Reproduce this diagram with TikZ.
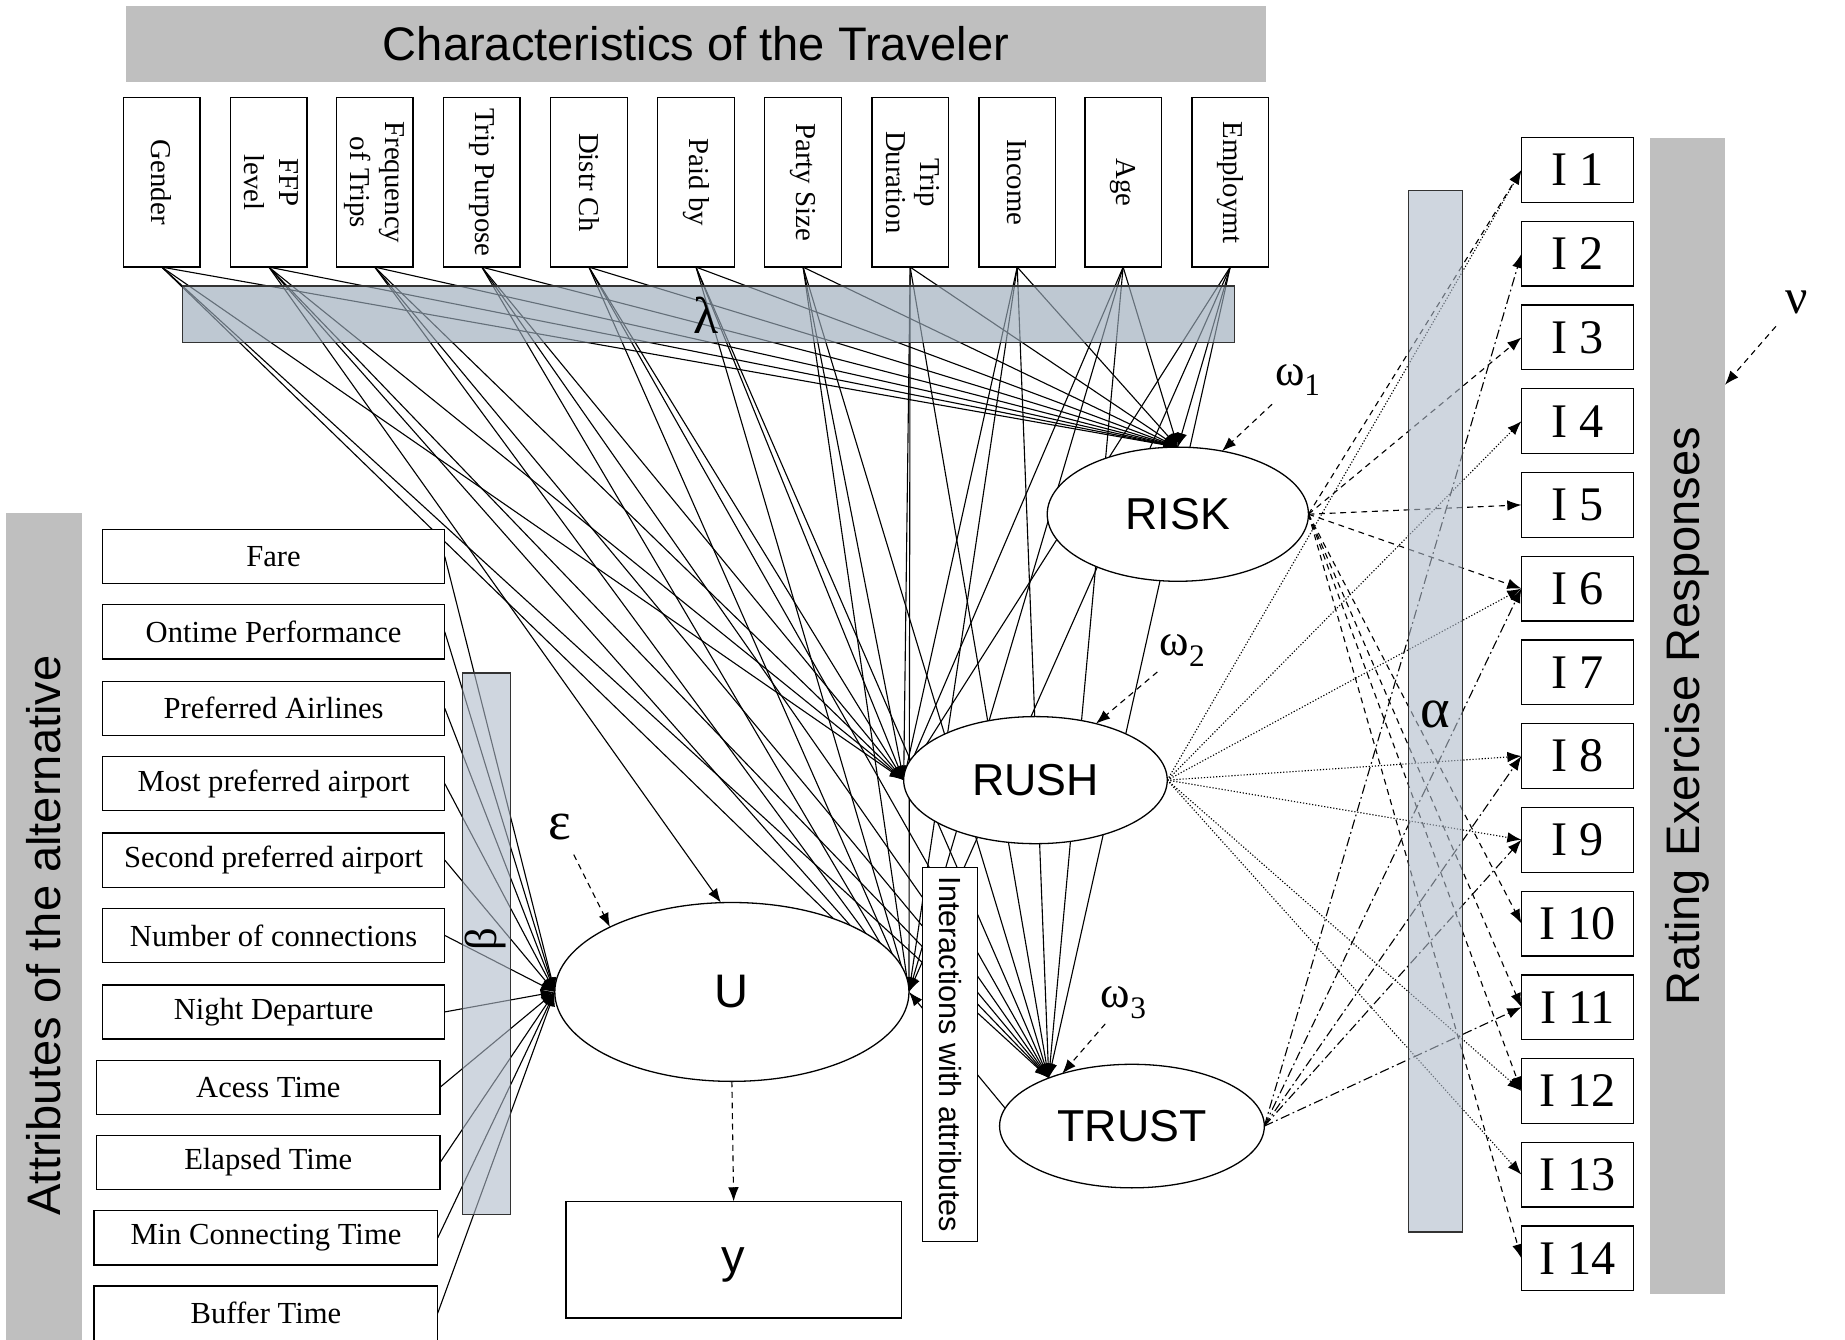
\documentclass[tikz,border=0pt]{standalone}
\usepackage{fontspec}
\usepackage{graphicx}
\setmainfont{Liberation Serif}
\newfontfamily\sansf{Liberation Sans}
\usetikzlibrary{shapes.geometric,arrows.meta}
\pgfdeclarelayer{lines}
\pgfsetlayers{lines,main}
\definecolor{bandgray}{RGB}{191,191,191}
\definecolor{lambdafill}{RGB}{155,171,186}
\definecolor{barfill}{RGB}{175,187,202}
\tikzset{
  every node/.style={inner sep=0pt,outer sep=0pt},
  band/.style={fill=bandgray},
  bandtext/.style={font=\sansf\fontsize{40}{44}\selectfont},
  charbox/.style={draw,line width=1.1pt,fill=white,minimum width=65pt,minimum height=144pt,font=\fontsize{24.5}{29}\selectfont},
  attrbox/.style={draw,line width=1.1pt,fill=white,minimum width=291pt,minimum height=46pt,font=\fontsize{26}{30}\selectfont},
  itembox/.style={draw,line width=1.1pt,fill=white,minimum width=95pt,minimum height=55pt,font=\fontsize{41}{44}\selectfont},
  latent/.style={ellipse,draw,line width=1.1pt,fill=white,font=\sansf\fontsize{38}{42}\selectfont},
  lbar/.style={draw=black!80,line width=1pt,fill=lambdafill,fill opacity=0.65},
  cbar/.style={draw=black!80,line width=1pt,fill=barfill,fill opacity=0.6},
  greek/.style={font=\fontsize{38}{40}\selectfont},
  head/.style={-{Latex[length=12pt,width=9pt]}},
  conn/.style={head,line width=0.95pt},
  dasharr/.style={head,line width=0.95pt,dash pattern=on 5pt off 4pt},
  riskline/.style={head,line width=0.95pt,dash pattern=on 5pt off 4pt},
  rushline/.style={head,line width=0.95pt,dash pattern=on 1pt off 1.6pt},
  trustline/.style={head,line width=0.95pt,dash pattern=on 8pt off 3pt on 1.5pt off 3pt}
}
\begin{document}
\begin{tikzpicture}[x=1pt,y=-1pt]
\useasboundingbox (0,0) rectangle (1568,1138);

% title bands
\node[band,bandtext,minimum width=969pt,minimum height=65pt] (travband) at (591.5,37.5) {Characteristics of the Traveler};
\node[band,bandtext,minimum width=65pt,minimum height=718pt] (attrband) at (37.5,795) {\rotatebox{90}{Attributes of the alternative}};
\node[band,bandtext,minimum width=64pt,minimum height=983pt] (rateband) at (1434,608.5) {\rotatebox{90}{Rating Exercise Responses}};

% characteristics of the traveler
\node[charbox] (c1) at (137.5,155) {\rotatebox{-90}{Gender}};
\node[charbox] (c2) at (228.5,155) {\rotatebox{-90}{\begin{tabular}{@{}c@{}}FFP\\level\end{tabular}}};
\node[charbox] (c3) at (318.5,155) {\rotatebox{-90}{\begin{tabular}{@{}c@{}}Frequency\\of Trips\end{tabular}}};
\node[charbox] (c4) at (409.5,155) {\rotatebox{-90}{Trip Purpose}};
\node[charbox] (c5) at (500.5,155) {\rotatebox{-90}{Distr Ch}};
\node[charbox] (c6) at (591.5,155) {\rotatebox{-90}{Paid by}};
\node[charbox] (c7) at (682.5,155) {\rotatebox{-90}{Party Size}};
\node[charbox] (c8) at (773.5,155) {\rotatebox{-90}{\begin{tabular}{@{}c@{}}Trip\\Duration\end{tabular}}};
\node[charbox] (c9) at (864.5,155) {\rotatebox{-90}{Income}};
\node[charbox] (c10) at (954.5,155) {\rotatebox{-90}{Age}};
\node[charbox] (c11) at (1045.5,155) {\rotatebox{-90}{Employmt}};

% attributes of the alternative
\node[attrbox] (a1) at (232.5,473) {Fare};
\node[attrbox] (a2) at (232.5,537) {Ontime Performance};
\node[attrbox] (a3) at (232.5,602) {Preferred Airlines};
\node[attrbox] (a4) at (232.5,666) {Most preferred airport};
\node[attrbox] (a5) at (232.5,731) {Second preferred airport};
\node[attrbox] (a6) at (232.5,795) {Number of connections};
\node[attrbox] (a7) at (232.5,860) {Night Departure};
\node[attrbox,minimum width=292pt] (a8) at (228,924) {Acess Time};
\node[attrbox,minimum width=292pt] (a9) at (228,988) {Elapsed Time};
\node[attrbox,minimum width=292pt] (a10) at (226,1052) {Min Connecting Time};
\node[attrbox,minimum width=292pt] (a11) at (226,1116) {Buffer Time};

% rating items
\foreach \k in {1,...,14}
  \node[itembox] (i\k) at (1340.5,{144.5+(\k-1)*71.15}) {I \k};

% latent variables, utility and choice
\node[latent,minimum width=222pt,minimum height=114pt] (risk) at (1001,437) {RISK};
\node[latent,minimum width=224pt,minimum height=108pt] (rush) at (880,663) {RUSH};
\node[latent,minimum width=225pt,minimum height=105pt] (trust) at (962,957) {TRUST};
\node[latent,minimum width=301pt,minimum height=152pt,font=\sansf\fontsize{40}{44}\selectfont] (u) at (622,843) {U};
\node[draw,line width=1.1pt,fill=white,minimum width=285pt,minimum height=99pt,text height=22pt,text depth=0pt,font=\sansf\fontsize{40}{44}\selectfont] (y) at (623.5,1070.5) {y};
\node[draw,line width=1.1pt,fill=white,minimum width=47pt,minimum height=318pt,font=\sansf\fontsize{26}{28}\selectfont] (inter) at (807.5,896) {\rotatebox{-90}{Interactions with attributes}};

% parameter bars
\node[lbar,minimum width=894pt,minimum height=48pt] (lambar) at (602,267) {};
\node[cbar,minimum width=41pt,minimum height=460pt] (betabar) at (413.5,802) {};
\node[cbar,minimum width=46pt,minimum height=885pt] (alphabar) at (1220,604.5) {};

% parameter and error labels
\node[font=\fontsize{44}{46}\selectfont] (lamlbl) at (600,268) {λ};
\node[font=\fontsize{38}{40}\selectfont,rotate=90] (betalbl) at (413,798) {β};
\node[font=\fontsize{48}{50}\selectfont] (alphalbl) at (1220,607) {α};
\node[font=\fontsize{46}{48}\selectfont] (eps) at (476,703) {ε};
\node[font=\fontsize{42}{44}\selectfont] (nu) at (1527,257) {ν};
\node[greek] (w1) at (1103,323) {ω\textsubscript{1}};
\node[greek] (w2) at (1005,553) {ω\textsubscript{2}};
\node[greek] (w3) at (955,852) {ω\textsubscript{3}};
\coordinate (nutip) at (1466,327);

\begin{pgfonlayer}{lines}
  % traveler characteristics to latent variables and utility
  \foreach \i in {1,...,11} {
    \draw[conn] (c\i.south) -- (risk.north);
    \draw[conn] (c\i.south) -- (rush.west);
    \draw[conn] (c\i.south) -- (trust.150);
    \draw[conn] (c\i.south) -- (u.east);
  }
  \draw[conn] (c2.south) -- (u.97);
  \draw[conn] (trust.172) -- (u.east);
  % attributes to utility
  \foreach \i in {1,...,11}
    \draw[conn] (a\i.east) -- (u.west);
  % measurement equations
  \foreach \k in {1,3,5,6,10,11,12,14}
    \draw[riskline] (risk.east) -- (i\k.west);
  \foreach \k in {1,4,6,8,9,12,13}
    \draw[rushline] (rush.east) -- (i\k.west);
  \foreach \k in {2,6,8,9,11}
    \draw[trustline] (trust.east) -- (i\k.west);
  % error terms
  \draw[dasharr,shorten <=30pt] (w1.center) -- (risk.55);
  \draw[dasharr,shorten <=28pt] (w2.center) -- (rush.43);
  \draw[dasharr,shorten <=24pt] (w3.center) -- (trust.143);
  \draw[dasharr,shorten <=26pt] (eps.center) -- (u.152);
  \draw[dasharr,shorten <=27pt] (nu.center) -- (nutip);
  \draw[dasharr] (u.south) -- (y.north);
\end{pgfonlayer}
\end{tikzpicture}
\end{document}
